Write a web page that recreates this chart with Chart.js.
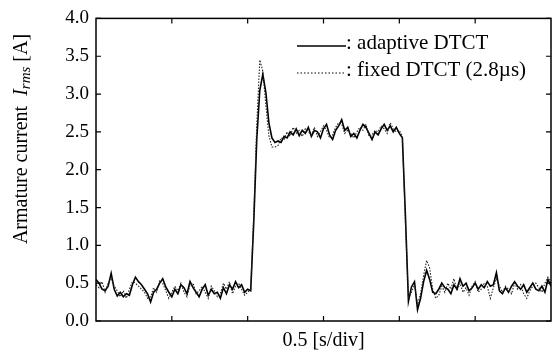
<!DOCTYPE html>
<html>
<head>
<meta charset="utf-8">
<script src="https://cdn.jsdelivr.net/npm/chart.js@4/dist/chart.umd.min.js"></script>
<style>
html,body{margin:0;padding:0;background:#fff;}
canvas{display:block;}
</style>
</head>
<body>
<canvas id="c" width="558" height="358"></canvas>
<script>
// time axis in divisions (0.5 s/div), sampled every 0.04 div
const sampleStep = 0.04;
const divisions = 6;
const yTicks = [0.0, 0.5, 1.0, 1.5, 2.0, 2.5, 3.0, 3.5, 4.0];
const seriesNames = [': adaptive DTCT', ': fixed DTCT (2.8\u00b5s)'];

const adaptive = [
0.55,0.50,0.42,0.40,0.46,0.63,0.42,0.33,0.38,0.32,
0.36,0.34,0.48,0.58,0.52,0.48,0.42,0.36,0.25,0.38,
0.42,0.50,0.56,0.45,0.38,0.32,0.42,0.36,0.48,0.44,
0.36,0.52,0.44,0.38,0.32,0.42,0.48,0.34,0.42,0.36,
0.38,0.30,0.44,0.36,0.48,0.42,0.52,0.44,0.48,0.38,
0.42,0.40,1.30,2.40,3.05,3.26,3.02,2.62,2.42,2.36,
2.38,2.36,2.44,2.42,2.50,2.46,2.54,2.45,2.52,2.48,
2.56,2.44,2.52,2.50,2.42,2.54,2.60,2.46,2.40,2.52,
2.58,2.66,2.52,2.56,2.44,2.48,2.42,2.52,2.60,2.56,
2.48,2.40,2.50,2.46,2.54,2.60,2.52,2.58,2.50,2.56,
2.48,2.42,1.40,0.26,0.45,0.52,0.15,0.30,0.52,0.67,
0.55,0.38,0.36,0.42,0.50,0.44,0.42,0.36,0.48,0.42,
0.56,0.46,0.50,0.40,0.44,0.50,0.42,0.48,0.44,0.52,
0.46,0.48,0.64,0.40,0.36,0.44,0.38,0.46,0.52,0.46,
0.42,0.48,0.38,0.44,0.50,0.42,0.40,0.46,0.38,0.55,
0.46];

const fixed = [
0.48,0.44,0.52,0.38,0.50,0.55,0.46,0.40,0.32,0.40,
0.30,0.42,0.52,0.50,0.46,0.42,0.38,0.30,0.32,0.44,
0.38,0.54,0.50,0.40,0.30,0.38,0.46,0.40,0.50,0.38,
0.32,0.48,0.50,0.36,0.40,0.46,0.38,0.30,0.46,0.40,
0.32,0.36,0.50,0.42,0.52,0.36,0.46,0.50,0.42,0.34,
0.38,0.42,1.40,2.60,3.45,3.30,2.85,2.45,2.30,2.30,
2.32,2.42,2.40,2.50,2.44,2.56,2.48,2.52,2.44,2.54,
2.50,2.46,2.56,2.44,2.50,2.58,2.52,2.42,2.46,2.56,
2.62,2.60,2.48,2.52,2.48,2.42,2.50,2.56,2.52,2.60,
2.44,2.46,2.52,2.50,2.58,2.54,2.48,2.62,2.54,2.50,
2.52,2.44,1.30,0.30,0.38,0.48,0.22,0.36,0.60,0.80,
0.70,0.42,0.30,0.34,0.46,0.38,0.50,0.42,0.56,0.40,
0.50,0.38,0.44,0.34,0.46,0.52,0.38,0.42,0.50,0.46,
0.30,0.44,0.56,0.46,0.38,0.46,0.42,0.36,0.50,0.42,
0.48,0.36,0.30,0.40,0.46,0.50,0.44,0.38,0.50,0.58,
0.50];

function toPoints(arr){ return arr.map((v,i)=>({x:i*sampleStep, y:v})); }

const SERIF = "'Liberation Serif', 'Times New Roman', Times, 'DejaVu Serif', serif";

const framePlugin = {
  id:'frame',
  afterDatasetsDraw(chart){
    const {ctx, chartArea:a, scales:{x,y}} = chart;
    ctx.save();
    ctx.strokeStyle='#000';
    ctx.lineWidth=1.5;
    ctx.strokeRect(a.left, a.top, a.right-a.left, a.bottom-a.top);
    ctx.lineWidth=1.2;
    ctx.beginPath();
    yTicks.forEach(v=>{
      const py=y.getPixelForValue(v);
      ctx.moveTo(a.left,py); ctx.lineTo(a.left+5,py);
      ctx.moveTo(a.right,py); ctx.lineTo(a.right-5,py);
    });
    for(let d=1; d<divisions; d++){
      const px=x.getPixelForValue(d);
      ctx.moveTo(px,a.top); ctx.lineTo(px,a.top+5);
      ctx.moveTo(px,a.bottom); ctx.lineTo(px,a.bottom-5);
    }
    ctx.stroke();

    // legend
    ctx.fillStyle='#000';
    ctx.font='21px '+SERIF;
    ctx.textBaseline='middle';
    ctx.textAlign='left';
    ctx.lineWidth=1.6;
    ctx.setLineDash([]);
    ctx.beginPath(); ctx.moveTo(297,46); ctx.lineTo(346,46); ctx.stroke();
    ctx.fillText(seriesNames[0], 346, 43);
    ctx.lineWidth=1.2;
    ctx.setLineDash([1.5,2]);
    ctx.beginPath(); ctx.moveTo(297,73); ctx.lineTo(346,73); ctx.stroke();
    ctx.setLineDash([]);
    ctx.fillText(seriesNames[1], 346, 70);

    // x title
    ctx.textAlign='center';
    ctx.font='20px '+SERIF;
    ctx.fillText('0.5 [s/div]', (a.left+a.right)/2, 341);

    // y title with italic subscript
    ctx.translate(22, 139);
    ctx.rotate(-Math.PI/2);
    const p1='Armature current  ', p2='I', p3='rms', p4=' [A]';
    const f1='20px '+SERIF, fI='italic 20px '+SERIF, fs='italic 15px '+SERIF;
    ctx.font=f1; const w1=ctx.measureText(p1).width, w4=ctx.measureText(p4).width;
    ctx.font=fI; const w2=ctx.measureText(p2).width;
    ctx.font=fs; const w3=ctx.measureText(p3).width;
    let cx=-(w1+w2+w3+w4)/2;
    ctx.textAlign='left';
    ctx.font=f1; ctx.fillText(p1,cx,0); cx+=w1;
    ctx.font=fI; ctx.fillText(p2,cx,0); cx+=w2;
    ctx.font=fs; ctx.fillText(p3,cx,4); cx+=w3;
    ctx.font=f1; ctx.fillText(p4,cx,0);
    ctx.restore();
  }
};

new Chart(document.getElementById('c'), {
  type:'line',
  data:{
    datasets:[
      {label:seriesNames[1], data:toPoints(fixed), borderColor:'#222', borderWidth:1.1, borderDash:[1.5,1.5], pointRadius:0, tension:0, fill:false},
      {label:seriesNames[0], data:toPoints(adaptive), borderColor:'#000', borderWidth:1.6, pointRadius:0, tension:0, fill:false}
    ]
  },
  options:{
    responsive:false,
    animation:false,
    devicePixelRatio:1,
    layout:{padding:{left:0,right:7,top:16,bottom:0}},
    plugins:{legend:{display:false}, tooltip:{enabled:false}},
    scales:{
      x:{type:'linear', min:0, max:divisions,
         grid:{display:false, drawTicks:false}, border:{display:false},
         ticks:{display:false},
         afterFit(s){ s.height=37; }},
      y:{type:'linear', min:0, max:4,
         grid:{display:false, drawTicks:false}, border:{display:false},
         afterBuildTicks(s){ s.ticks = yTicks.map(v=>({value:v})); },
         ticks:{color:'#000', padding:7, font:{family:SERIF, size:19},
                callback:v=>Number(v).toFixed(1)},
         afterFit(s){ s.width=96; }}
    }
  },
  plugins:[framePlugin]
});
</script>
</body>
</html>
